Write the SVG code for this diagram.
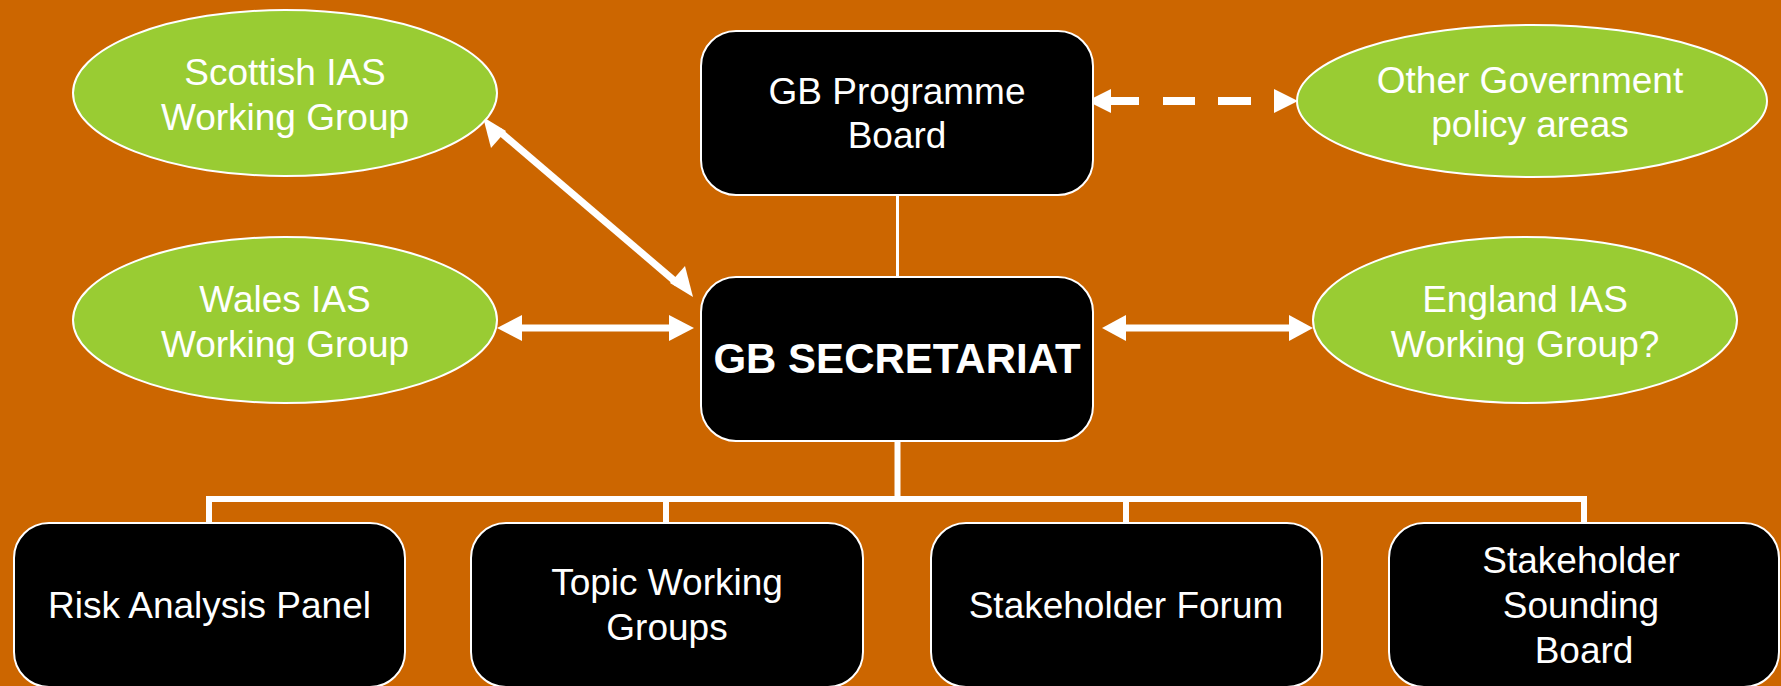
<svg xmlns="http://www.w3.org/2000/svg" width="1781" height="686" viewBox="0 0 1781 686">
  <style>
    .box { fill: #000000; stroke: #FFFFFF; stroke-width: 2; }
    .ell { fill: #99CC33; stroke: #FFFFFF; stroke-width: 2; }
    .t { font-family: "Liberation Sans", Arial, sans-serif; font-size: 37px; fill: #FFFFFF; text-anchor: middle; }
    .tb { font-family: "Liberation Sans", Arial, sans-serif; font-size: 42px; font-weight: bold; fill: #FFFFFF; text-anchor: middle; }
    .wire { stroke: #FFFFFF; fill: none; }
    .head { fill: #FFFFFF; }
  </style>
  <rect x="0" y="0" width="1781" height="686" fill="#CC6600"/>

  <g id="connectors">
    <!-- Board to Secretariat -->
    <line class="wire" x1="897.5" y1="194" x2="897.5" y2="277" stroke-width="3"/>
    <!-- Secretariat to bus -->
    <line class="wire" x1="897.5" y1="441" x2="897.5" y2="499" stroke-width="6"/>
    <polyline class="wire" points="209,523 209,499 1584,499 1584,523" stroke-width="6"/>
    <line class="wire" x1="666" y1="499" x2="666" y2="523" stroke-width="6"/>
    <line class="wire" x1="1126" y1="499" x2="1126" y2="523" stroke-width="6"/>

    <!-- Scottish <-> Secretariat -->
    <g id="arrow-scottish">
      <line class="wire" x1="499" y1="131" x2="677" y2="283" stroke-width="7"/>
      <polygon class="head" points="483,117 491,148 506,131"/>
      <polygon class="head" points="693,297 685,266 670,283"/>
    </g>
    <!-- Wales <-> Secretariat -->
    <g id="arrow-wales">
      <line class="wire" x1="518" y1="328" x2="673" y2="328" stroke-width="7"/>
      <polygon class="head" points="497,328 522,315 522,341"/>
      <polygon class="head" points="694,328 669,315 669,341"/>
    </g>
    <!-- Secretariat <-> England -->
    <g id="arrow-england">
      <line class="wire" x1="1122" y1="328" x2="1293" y2="328" stroke-width="7"/>
      <polygon class="head" points="1102,328 1126,315 1126,341"/>
      <polygon class="head" points="1313,328 1289,315 1289,341"/>
    </g>
    <!-- Board <-> Other Government (dashed) -->
    <g id="arrow-other">
      <polygon class="head" points="1087,101 1111,89 1111,113"/>
      <line class="wire" x1="1110" y1="101" x2="1139" y2="101" stroke-width="8"/>
      <line class="wire" x1="1163" y1="101" x2="1195" y2="101" stroke-width="8"/>
      <line class="wire" x1="1218" y1="101" x2="1251" y2="101" stroke-width="8"/>
      <polygon class="head" points="1298,101 1274,89 1274,113"/>
    </g>
  </g>

  <g id="scottish">
    <ellipse class="ell" cx="285" cy="93" rx="212" ry="83"/>
    <text class="t" x="285" y="85">Scottish IAS</text>
    <text class="t" x="285" y="130">Working Group</text>
  </g>
  <g id="wales">
    <ellipse class="ell" cx="285" cy="320" rx="212" ry="83"/>
    <text class="t" x="285" y="312">Wales IAS</text>
    <text class="t" x="285" y="357">Working Group</text>
  </g>
  <g id="other-government">
    <ellipse class="ell" cx="1532" cy="101" rx="235" ry="76"/>
    <text class="t" x="1530" y="93">Other Government</text>
    <text class="t" x="1530" y="137">policy areas</text>
  </g>
  <g id="england">
    <ellipse class="ell" cx="1525" cy="320" rx="212" ry="83"/>
    <text class="t" x="1525" y="312">England IAS</text>
    <text class="t" x="1525" y="357">Working Group?</text>
  </g>

  <g id="programme-board">
    <rect class="box" x="701" y="31" width="392" height="164" rx="35" ry="35"/>
    <text class="t" x="897" y="104">GB Programme</text>
    <text class="t" x="897" y="148">Board</text>
  </g>
  <g id="secretariat">
    <rect class="box" x="701" y="277" width="392" height="164" rx="35" ry="35"/>
    <text class="tb" x="897" y="373">GB SECRETARIAT</text>
  </g>

  <g id="risk-analysis">
    <rect class="box" x="14" y="523" width="391" height="164" rx="35" ry="35"/>
    <text class="t" x="209.5" y="618">Risk Analysis Panel</text>
  </g>
  <g id="topic-working">
    <rect class="box" x="471" y="523" width="392" height="164" rx="35" ry="35"/>
    <text class="t" x="667" y="595">Topic Working</text>
    <text class="t" x="667" y="640">Groups</text>
  </g>
  <g id="stakeholder-forum">
    <rect class="box" x="931" y="523" width="391" height="164" rx="35" ry="35"/>
    <text class="t" x="1126" y="618">Stakeholder Forum</text>
  </g>
  <g id="sounding-board">
    <rect class="box" x="1389" y="523" width="390" height="164" rx="35" ry="35"/>
    <text class="t" x="1581" y="573">Stakeholder</text>
    <text class="t" x="1581" y="618">Sounding</text>
    <text class="t" x="1584" y="663">Board</text>
  </g>
</svg>
